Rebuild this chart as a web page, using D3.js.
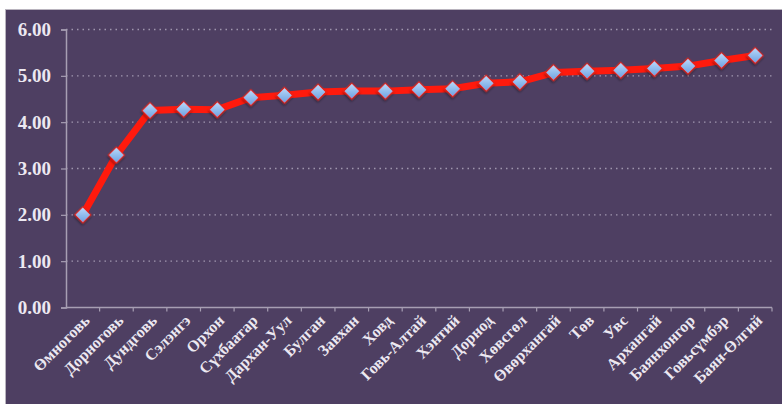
<!DOCTYPE html>
<html>
<head>
<meta charset="utf-8">
<script src="https://cdn.jsdelivr.net/npm/d3@7/dist/d3.min.js"></script>
<style>
  html, body { margin: 0; padding: 0; background: #ffffff; }
  svg { display: block; }
</style>
</head>
<body>
<svg id="chart" width="782" height="404"></svg>
<script>
// Aimag names and their scores
const aimags = [
  "Өмноговь", "Дорноговь", "Дундговь", "Сэлэнгэ", "Орхон", "Сүхбаатар",
  "Дархан-Уул", "Булган", "Завхан", "Ховд", "Говь-Алтай", "Хэнтий",
  "Дорнод", "Хөвсгөл", "Өвөрхангай", "Төв", "Увс", "Архангай",
  "Баянхонгор", "Говьсүмбэр", "Баян-Өлгий"
];
const scores = [
  2.00, 3.29, 4.25, 4.28, 4.27, 4.53,
  4.58, 4.65, 4.67, 4.67, 4.70, 4.72,
  4.84, 4.87, 5.07, 5.10, 5.12, 5.16,
  5.21, 5.33, 5.44
];
const yTicks = [0, 1, 2, 3, 4, 5, 6];

const svg = d3.select("#chart");
const W = 782, H = 404;
const plot = { left: 66, right: 772, top: 29.5, bottom: 307.5 };

const defs = svg.append("defs");
const grad = defs.append("linearGradient")
  .attr("id", "markerFill").attr("x1", "0").attr("y1", "0").attr("x2", "1").attr("y2", "1");
grad.append("stop").attr("offset", "0%").attr("stop-color", "#bcdcfb");
grad.append("stop").attr("offset", "100%").attr("stop-color", "#6a9fe0");
const shadow = defs.append("filter").attr("id", "shadow")
  .attr("x", "-50%").attr("y", "-50%").attr("width", "200%").attr("height", "200%");
shadow.append("feDropShadow").attr("dx", 1).attr("dy", 1.5).attr("stdDeviation", 1.2)
  .attr("flood-color", "#000").attr("flood-opacity", 0.45);

// background panel
svg.append("rect").attr("x", 5.5).attr("y", 9.5).attr("width", W).attr("height", H)
  .attr("fill", "#4e3f62").attr("stroke", "#b9b4be").attr("stroke-width", 1);

const x = d3.scaleBand().domain(aimags).range([plot.left, plot.right]).padding(0);
const y = d3.scaleLinear().domain([0, 6]).range([plot.bottom, plot.top]);

// dotted gridlines
svg.append("g").selectAll("line").data(yTicks.filter(d => d > 0)).join("line")
  .attr("x1", plot.left).attr("x2", plot.right)
  .attr("y1", d => y(d)).attr("y2", d => y(d))
  .attr("stroke", "#a096ae").attr("stroke-width", 1.3).attr("stroke-dasharray", "1.5,4");

// y axis
const yAxis = svg.append("g").attr("transform", `translate(${plot.left},0)`)
  .call(d3.axisLeft(y).tickValues(yTicks).tickFormat(d3.format(".2f")).tickSize(5).tickPadding(10));
yAxis.select(".domain").attr("stroke", "#a79eb3").attr("stroke-width", 1.5);
yAxis.selectAll(".tick line").attr("stroke", "#a79eb3").attr("stroke-width", 1.2);
yAxis.selectAll("text")
  .attr("fill", "#ece8f1")
  .style("font-family", "'Liberation Serif', serif")
  .style("font-weight", "bold")
  .style("font-size", "19px");

// x axis with ticks at category boundaries
const xAxisG = svg.append("g");
xAxisG.append("line")
  .attr("x1", plot.left).attr("x2", plot.right)
  .attr("y1", plot.bottom).attr("y2", plot.bottom)
  .attr("stroke", "#a79eb3").attr("stroke-width", 1.5);
const bounds = aimags.map(d => x(d)).concat([x(aimags[aimags.length - 1]) + x.bandwidth()]);
xAxisG.selectAll("line.tk").data(bounds.slice(1)).join("line").attr("class", "tk")
  .attr("x1", d => d).attr("x2", d => d)
  .attr("y1", plot.bottom).attr("y2", plot.bottom + 4)
  .attr("stroke", "#a79eb3").attr("stroke-width", 1.2);

const cx = d => x(d) + x.bandwidth() / 2;

xAxisG.selectAll("text").data(aimags).join("text")
  .attr("transform", d => `translate(${cx(d) + 8},${plot.bottom + 14}) rotate(-45)`)
  .attr("text-anchor", "end")
  .attr("fill", "#ece8f1")
  .style("font-family", "'Liberation Serif', serif")
  .style("font-weight", "bold")
  .style("font-size", "16px")
  .text(d => d);

// series line
const pts = aimags.map((d, i) => [cx(d), y(scores[i])]);
svg.append("path")
  .attr("d", d3.line()(pts))
  .attr("fill", "none")
  .attr("stroke", "#ff1a0d")
  .attr("stroke-width", 7)
  .attr("stroke-linejoin", "round");

// diamond markers
svg.append("g").selectAll("path").data(pts).join("path")
  .attr("d", d3.symbol(d3.symbolSquare, 128)())
  .attr("transform", p => `translate(${p[0]},${p[1]}) rotate(45)`)
  .attr("fill", "url(#markerFill)")
  .attr("stroke", "#e02a20")
  .attr("stroke-width", 1.3)
  .attr("filter", "url(#shadow)");
</script>
</body>
</html>
